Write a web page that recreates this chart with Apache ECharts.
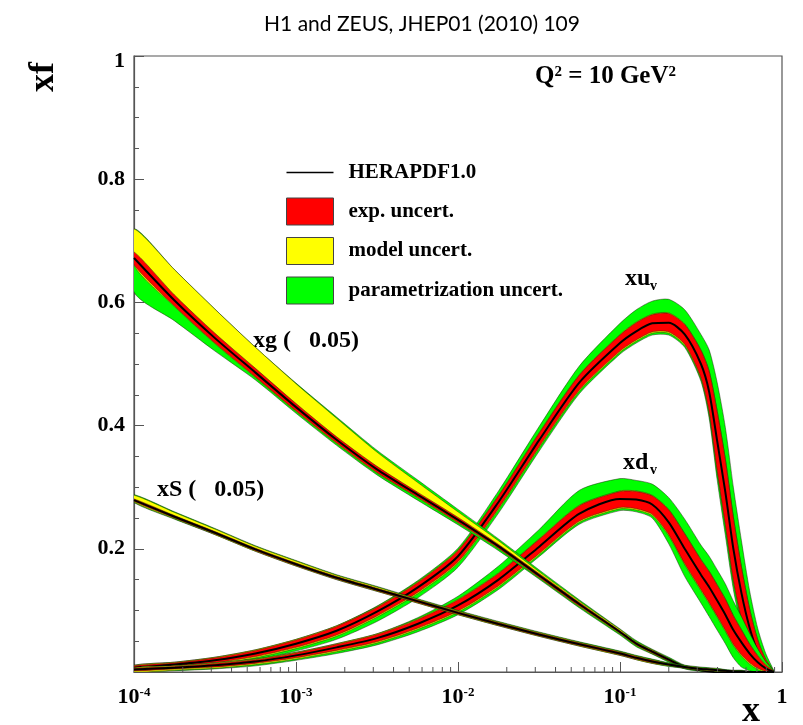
<!DOCTYPE html>
<html><head><meta charset="utf-8">
<script src="https://cdn.jsdelivr.net/npm/echarts@6/dist/echarts.min.js"></script>
<style>html,body{margin:0;padding:0;background:#fff}#c{width:803px;height:725px}</style>
</head><body><div id="c"></div><script>
// x grid (Bjorken x)
const xs = [1e-4,1.78e-4,3.16e-4,5.62e-4,1e-3,1.78e-3,3.16e-3,5.62e-3,0.01,0.0178,0.0316,0.0562,0.1,0.126,0.158,0.2,0.251,0.316,0.355,0.398,0.447,0.501,0.562,0.631,0.708,0.794,0.891];

// xu_v : central value and cumulative uncertainties (exp, exp+model, total)
const xuv      = [0.007,0.012,0.019,0.030,0.046,0.067,0.098,0.137,0.188,0.276,0.376,0.470,0.534,0.553,0.566,0.567,0.548,0.500,0.455,0.375,0.292,0.200,0.128,0.072,0.033,0.011,0.000];
const xuvExpDn = [0.003,0.003,0.004,0.005,0.006,0.007,0.007,0.008,0.009,0.010,0.011,0.012,0.013,0.014,0.014,0.015,0.016,0.022,0.033,0.048,0.053,0.051,0.042,0.030,0.019,0.009,0.001];
const xuvExpUp = [0.003,0.003,0.004,0.005,0.006,0.007,0.007,0.008,0.009,0.010,0.011,0.012,0.013,0.014,0.014,0.015,0.016,0.022,0.033,0.048,0.053,0.051,0.042,0.030,0.019,0.009,0.001];
const xuvModDn = [0.005,0.005,0.006,0.007,0.008,0.009,0.009,0.010,0.011,0.012,0.013,0.014,0.015,0.016,0.016,0.017,0.018,0.024,0.035,0.050,0.055,0.053,0.044,0.032,0.021,0.010,0.001];
const xuvModUp = [0.004,0.004,0.005,0.006,0.007,0.008,0.008,0.009,0.010,0.011,0.012,0.013,0.014,0.015,0.015,0.016,0.017,0.023,0.034,0.049,0.054,0.052,0.043,0.031,0.020,0.010,0.001];
const xuvTotDn = [0.006,0.007,0.008,0.010,0.012,0.014,0.016,0.017,0.018,0.018,0.018,0.018,0.018,0.019,0.019,0.020,0.021,0.028,0.043,0.063,0.070,0.066,0.055,0.039,0.025,0.011,0.001];
const xuvTotUp = [0.004,0.004,0.005,0.006,0.007,0.008,0.009,0.011,0.013,0.018,0.022,0.027,0.032,0.035,0.036,0.038,0.040,0.048,0.068,0.095,0.105,0.100,0.085,0.060,0.038,0.019,0.002];

// xd_v
const xdv      = [0.004,0.007,0.011,0.017,0.027,0.040,0.055,0.078,0.108,0.150,0.203,0.257,0.281,0.280,0.272,0.243,0.200,0.158,0.138,0.116,0.093,0.068,0.048,0.030,0.016,0.006,0.000];
const xdvExpDn = [0.002,0.002,0.003,0.003,0.004,0.005,0.006,0.007,0.009,0.010,0.011,0.012,0.014,0.015,0.016,0.020,0.024,0.024,0.025,0.025,0.025,0.023,0.020,0.015,0.010,0.005,0.001];
const xdvExpUp = [0.002,0.002,0.003,0.003,0.004,0.005,0.006,0.007,0.009,0.010,0.012,0.013,0.012,0.013,0.014,0.020,0.024,0.024,0.025,0.025,0.025,0.023,0.020,0.015,0.010,0.005,0.001];
const xdvModDn = [0.004,0.004,0.005,0.005,0.006,0.007,0.008,0.009,0.011,0.012,0.013,0.014,0.016,0.017,0.018,0.022,0.026,0.026,0.027,0.027,0.027,0.025,0.022,0.017,0.012,0.006,0.001];
const xdvModUp = [0.003,0.003,0.004,0.004,0.005,0.006,0.007,0.008,0.010,0.011,0.013,0.014,0.013,0.014,0.015,0.021,0.025,0.025,0.026,0.026,0.026,0.024,0.021,0.016,0.011,0.006,0.001];
const xdvTotDn = [0.004,0.005,0.006,0.007,0.008,0.010,0.011,0.013,0.015,0.016,0.016,0.017,0.019,0.020,0.022,0.035,0.045,0.046,0.048,0.048,0.047,0.045,0.040,0.028,0.016,0.006,0.001];
const xdvTotUp = [0.003,0.003,0.004,0.004,0.005,0.006,0.007,0.010,0.015,0.022,0.028,0.038,0.033,0.031,0.033,0.040,0.048,0.048,0.050,0.050,0.050,0.047,0.042,0.033,0.022,0.011,0.002];

// xg (x 0.05)
const xg      = [0.672,0.603,0.542,0.486,0.430,0.377,0.329,0.288,0.247,0.204,0.157,0.110,0.065,0.046,0.033,0.020,0.008,0.003,0.001,0,0,0,0,0,0,0,0];
const xgExpDn = [0.011,0.009,0.008,0.007,0.006,0.005,0.005,0.004,0.004,0.003,0.003,0.003,0.002,0.002,0.002,0.002,0.001,0.001,0.001,0,0,0,0,0,0,0,0];
const xgExpUp = [0.010,0.009,0.008,0.007,0.006,0.005,0.005,0.004,0.004,0.003,0.003,0.003,0.002,0.002,0.002,0.002,0.001,0.001,0.001,0,0,0,0,0,0,0,0];
const xgModDn = [0.012,0.010,0.009,0.008,0.007,0.006,0.006,0.005,0.005,0.004,0.004,0.004,0.003,0.003,0.003,0.002,0.002,0.001,0.001,0,0,0,0,0,0,0,0];
const xgModUp = [0.047,0.050,0.047,0.041,0.038,0.035,0.028,0.020,0.013,0.009,0.006,0.005,0.004,0.003,0.003,0.002,0.002,0.001,0.001,0,0,0,0,0,0,0,0];
const xgTotDn = [0.055,0.033,0.021,0.012,0.010,0.009,0.009,0.009,0.008,0.007,0.006,0.006,0.005,0.005,0.004,0.004,0.003,0.002,0.001,0,0,0,0,0,0,0,0];
const xgTotUp = [0.047,0.050,0.047,0.041,0.039,0.037,0.031,0.024,0.017,0.012,0.009,0.007,0.005,0.005,0.004,0.004,0.003,0.002,0.001,0,0,0,0,0,0,0,0];

// xS (x 0.05)
const xS      = [0.279,0.252,0.226,0.199,0.175,0.153,0.134,0.115,0.096,0.078,0.061,0.045,0.030,0.023,0.017,0.012,0.008,0.005,0.004,0.003,0.002,0.001,0.001,0,0,0,0];
const xSExpDn = [0.002,0.002,0.002,0.002,0.002,0.002,0.002,0.002,0.002,0.002,0.002,0.002,0.002,0.002,0.002,0.001,0.001,0.001,0.001,0.001,0.001,0.001,0,0,0,0,0];
const xSExpUp = [0.002,0.002,0.002,0.002,0.002,0.002,0.002,0.002,0.002,0.002,0.002,0.002,0.002,0.002,0.002,0.001,0.001,0.001,0.001,0.001,0.001,0.001,0,0,0,0,0];
const xSModDn = [0.003,0.003,0.003,0.003,0.003,0.003,0.003,0.003,0.003,0.003,0.003,0.003,0.003,0.003,0.003,0.002,0.002,0.002,0.002,0.002,0.001,0.001,0,0,0,0,0];
const xSModUp = [0.008,0.007,0.006,0.005,0.005,0.004,0.004,0.003,0.003,0.003,0.003,0.003,0.003,0.003,0.003,0.002,0.002,0.002,0.002,0.002,0.001,0.001,0.001,0,0,0,0];
const xSTotDn = [0.004,0.004,0.003,0.003,0.003,0.003,0.003,0.003,0.003,0.003,0.003,0.003,0.003,0.003,0.003,0.003,0.002,0.002,0.002,0.002,0.001,0.001,0.001,0,0,0,0];
const xSTotUp = [0.009,0.008,0.007,0.006,0.006,0.005,0.005,0.004,0.004,0.004,0.004,0.004,0.004,0.004,0.004,0.003,0.003,0.003,0.003,0.003,0.002,0.002,0.002,0.001,0,0,0];

// tick labels
const yTickLabels = {0:'', 0.2:'0.2', 0.4:'0.4', 0.6:'0.6', 0.8:'0.8', 1:'1'};
const xTickExponents = {'-4':'-4','-3':'-3','-2':'-2','-1':'-1','0':''};
const xMinorMult = [2,3,4,5,6,7,8,9];
const xDecades = [1e-4,1e-3,1e-2,1e-1];

const legendNames = ['HERAPDF1.0','exp. uncert.','model uncert.','parametrization uncert.'];
const colRed = '#ff0000', colYel = '#ffff00', colGrn = '#00ff00';
const SERIF = '"Liberation Serif","Times New Roman",serif';

const chart = echarts.init(document.getElementById('c'), null, {renderer:'canvas', width:803, height:725});

function band(name, c, dn, up, color, z) {
  return {
    type:'custom', name, z, silent:true, clip:true,
    data:[[xs[0], c[0]]],
    renderItem(params, api) {
      const pts = [];
      for (let i = 0; i < xs.length; i++) pts.push(api.coord([xs[i], c[i] + up[i]]));
      for (let i = xs.length - 1; i >= 0; i--) pts.push(api.coord([xs[i], Math.max(0, c[i] - dn[i])]));
      return {type:'polygon', shape:{points:pts, smooth:0.25},
        style:{fill:color, stroke:'rgba(30,30,10,0.8)', lineWidth:0.6}};
    }
  };
}
function central(c, z) {
  return {type:'line', name:legendNames[0], z, silent:true, symbol:'none', showSymbol:false,
    smooth:0.25, data: xs.map((x,i)=>[x, c[i]]),
    lineStyle:{color:'#000', width:2}, itemStyle:{color:'#000'}};
}

const pdfs = [
  [xuv, xuvExpDn, xuvExpUp, xuvModDn, xuvModUp, xuvTotDn, xuvTotUp],
  [xdv, xdvExpDn, xdvExpUp, xdvModDn, xdvModUp, xdvTotDn, xdvTotUp],
  [xg, xgExpDn, xgExpUp, xgModDn, xgModUp, xgTotDn, xgTotUp],
  [xS, xSExpDn, xSExpUp, xSModDn, xSModUp, xSTotDn, xSTotUp]
];
const series = [];
pdfs.forEach((p, k) => {
  const z0 = 2 + k * 4;
  series.push(band(legendNames[3], p[0], p[5], p[6], colGrn, z0));
  series.push(band(legendNames[2], p[0], p[3], p[4], colYel, z0 + 1));
  series.push(band(legendNames[1], p[0], p[1], p[2], colRed, z0 + 2));
  series.push(central(p[0], z0 + 3));
});
// minor ticks of the log x axis (axis decoration)
const minorX = [];
xDecades.forEach(d => xMinorMult.forEach(m => minorX.push(d * m)));
series.push({
  type:'custom', silent:true, z:40, clip:false,
  data: minorX.map(v => [v, 0]),
  renderItem(params, api) {
    const p = api.coord([api.value(0), 0]);
    return {type:'line', shape:{x1:p[0], y1:p[1], x2:p[0], y2:p[1] - 5},
      style:{stroke:'#555', lineWidth:1}};
  }
});

const boldSerif = (size) => ({fontFamily:SERIF, fontWeight:'bold', fontSize:size, color:'#000'});
const lineIcon = 'path://M0,0L0.02,0L0.02,0.02L0,0.02ZM0,12.7L47,12.7L47,14.3L0,14.3ZM0,26.98L0.02,26.98L0.02,27L0,27Z';

const option = {
  animation:false,
  backgroundColor:'#fff',
  grid:{left:134, right:21, top:56, bottom:53, show:true, borderColor:'#555', borderWidth:1.2, containLabel:false},
  xAxis:{
    type:'log', logBase:10, min:1e-4, max:1,
    axisLine:{lineStyle:{color:'#555', width:1.2}},
    axisTick:{inside:true, length:10, lineStyle:{color:'#555', width:1}},
    splitLine:{show:false},
    axisLabel:{
      margin:14,
      formatter(v) {
        const e = String(Math.round(Math.log10(v)));
        return xTickExponents[e] === '' ? '{b|1}' : '{b|10}{s|' + xTickExponents[e] + '}';
      },
      rich:{
        b:Object.assign(boldSerif(22), {verticalAlign:'bottom'}),
        s:Object.assign(boldSerif(13), {verticalAlign:'top', lineHeight:10})
      }
    }
  },
  yAxis:{
    type:'value', min:0, max:1, interval:0.2,
    axisLine:{show:true, lineStyle:{color:'#555', width:1.2}},
    axisTick:{show:true, inside:true, length:10, lineStyle:{color:'#555', width:1}},
    minorTick:{show:true, splitNumber:4, length:5, lineStyle:{color:'#555', width:1}},
    splitLine:{show:false},
    axisLabel:Object.assign(boldSerif(22), {
      margin:9,
      formatter(v) {
        const key = Math.round(v * 10) / 10;
        const t = yTickLabels[key];
        return key === 1 ? '{one|' + t + '}' : t;
      },
      rich:{one:Object.assign(boldSerif(22), {padding:[10,0,0,0]})}
    })
  },
  legend:{
    orient:'vertical', left:281, top:154, itemWidth:47, itemHeight:27, itemGap:11.5,
    selectedMode:false,
    textStyle:Object.assign(boldSerif(21), {padding:[0,0,0,10]}),
    data:[
      {name:legendNames[0], icon:lineIcon, itemStyle:{color:'#000', borderWidth:0}},
      {name:legendNames[1], icon:'rect', itemStyle:{color:colRed, borderColor:'#444', borderWidth:1}},
      {name:legendNames[2], icon:'rect', itemStyle:{color:colYel, borderColor:'#444', borderWidth:1}},
      {name:legendNames[3], icon:'rect', itemStyle:{color:colGrn, borderColor:'#444', borderWidth:1}}
    ]
  },
  graphic:[
    {type:'text', x:422, y:24, style:{text:'H1 and ZEUS, JHEP01 (2010) 109', font:'21px Lato', fill:'#000', align:'center', verticalAlign:'middle'}},
    {type:'text', x:44, y:77, rotation:Math.PI/2, style:{text:'xf', font:'bold 36px ' + SERIF, fill:'#000', align:'center', verticalAlign:'middle'}},
    {type:'text', x:751, y:712, style:{text:'x', font:'bold 36px ' + SERIF, fill:'#000', align:'center', verticalAlign:'middle'}},
    {type:'text', x:676, y:77, style:{text:'{b|Q}{s|2}{b| = 10 GeV}{s|2}', align:'right', verticalAlign:'middle',
      rich:{b:Object.assign(boldSerif(25), {verticalAlign:'bottom'}), s:Object.assign(boldSerif(15), {verticalAlign:'top', lineHeight:12})}}},
    {type:'text', x:253, y:341, style:{text:'xg (   0.05)', font:'bold 24px ' + SERIF, fill:'#000', align:'left', verticalAlign:'middle'}},
    {type:'text', x:157, y:490, style:{text:'xS (   0.05)', font:'bold 24px ' + SERIF, fill:'#000', align:'left', verticalAlign:'middle'}},
    {type:'text', x:625, y:279, style:{text:'xu', font:'bold 24px ' + SERIF, fill:'#000', align:'left', verticalAlign:'middle'}},
    {type:'text', x:650, y:286, style:{text:'v', font:'bold 14px ' + SERIF, fill:'#000', align:'left', verticalAlign:'middle'}},
    {type:'text', x:623, y:463, style:{text:'xd', font:'bold 24px ' + SERIF, fill:'#000', align:'left', verticalAlign:'middle'}},
    {type:'text', x:650, y:470, style:{text:'v', font:'bold 14px ' + SERIF, fill:'#000', align:'left', verticalAlign:'middle'}}
  ],
  series
};
chart.setOption(option);
</script></body></html>
